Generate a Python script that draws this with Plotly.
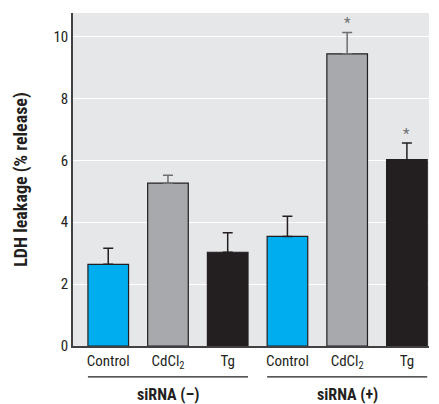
import plotly.graph_objects as go

categories = ["Control", "CdCl<sub>2</sub>", "Tg", "Control", "CdCl<sub>2</sub>", "Tg"]
groups = ["siRNA (–)", "siRNA (+)"]
values = [2.64, 5.26, 3.03, 3.54, 9.44, 6.02]
errors = [0.52, 0.26, 0.63, 0.65, 0.69, 0.54]
significant = [False, False, False, False, True, True]

bar_colors = ["#00AEEF", "#A7A9AC", "#231F20", "#00AEEF", "#A7A9AC", "#231F20"]
err_colors = ["#231F20", "#6D6E71", "#231F20", "#231F20", "#6D6E71", "#231F20"]

FONT = "Liberation Sans Narrow, Arial Narrow, Roboto Condensed, Arial, sans-serif"
BW = 0.68

fig = go.Figure()
for i, (v, e) in enumerate(zip(values, errors)):
    fig.add_trace(go.Bar(
        x=[i], y=[v], width=BW,
        marker=dict(color=bar_colors[i], line=dict(color="#231F20", width=1.2)),
        error_y=dict(type="data", array=[e], arrayminus=[0], symmetric=False,
                     color=err_colors[i], thickness=1.5, width=5),
        showlegend=False, hoverinfo="skip",
    ))

for i, sig in enumerate(significant):
    if sig:
        fig.add_annotation(x=i, y=values[i] + errors[i] + 0.3, text="*",
                           showarrow=False, font=dict(size=15, color="#6D6E71", family=FONT),
                           xref="x", yref="y")

for g, name in enumerate(groups):
    x0 = g * 3 - BW / 2
    x1 = g * 3 + 2 + BW / 2
    fig.add_shape(type="line", xref="x", yref="paper", x0=x0, x1=x1, y0=-0.093, y1=-0.093,
                  line=dict(color="#231F20", width=1.2))
    fig.add_annotation(x=g * 3 + 1, y=-0.145, xref="x", yref="paper", text="<b>%s</b>" % name,
                       showarrow=False, font=dict(size=16, color="#231F20", family=FONT),
                       yanchor="middle")

fig.update_layout(
    width=431, height=396,
    margin=dict(l=65, r=10, t=5, b=58),
    paper_bgcolor="white", plot_bgcolor="#E6E7E8",
    font=dict(family=FONT, color="#231F20", size=14),
    bargap=0.3,
    xaxis=dict(range=[-0.59, 5.37], tickvals=list(range(6)), ticktext=categories,
               showgrid=False, zeroline=False, showline=True, linecolor="#414042", linewidth=1.5,
               ticks="", tickfont=dict(size=15, family=FONT)),
    yaxis=dict(range=[0, 10.76], tickvals=[0, 2, 4, 6, 8, 10], showgrid=True, gridcolor="white",
               gridwidth=1.2, zeroline=False, showline=True, linecolor="#414042", linewidth=1.5,
               ticks="", tickfont=dict(size=15, family=FONT),
               title=dict(text="<b>LDH leakage (% release)</b>", font=dict(size=18, family=FONT),
                          standoff=21)),
)

fig.write_html("out.html")
